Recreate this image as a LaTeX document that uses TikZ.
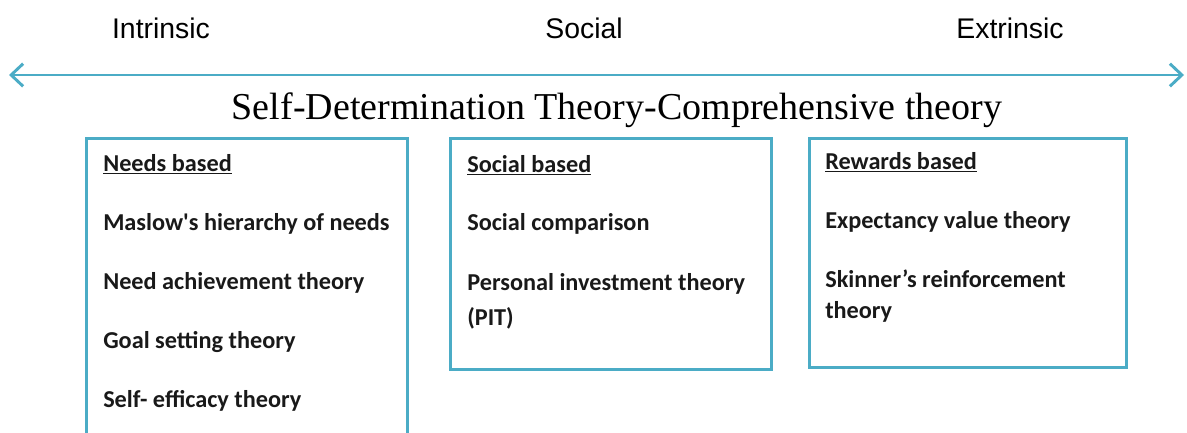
\documentclass[tikz,border=0pt]{standalone}
\usepackage{fontspec}
\setmainfont{Carlito}
\newfontfamily\labelfont{Liberation Sans}
\newfontfamily\titlefont{Liberation Serif}
\usetikzlibrary{arrows.meta}
\definecolor{aqua}{HTML}{4BACC6}
\tikzset{
  frame/.style={draw=aqua, line width=2.4pt, anchor=north west, inner sep=0pt},
  axislabel/.style={font=\labelfont\fontsize{21.3}{25}\selectfont, anchor=base},
  item/.style={font=\bfseries\fontsize{18.2}{21}\selectfont, anchor=base west, inner sep=0pt, text=black!90},
  head/.style={item},
}
\newcommand{\headline}[1]{\underline{#1}}
\begin{document}
\begin{tikzpicture}[x=0.75pt, y=-0.75pt]
  \useasboundingbox (0,0) rectangle (1187,432);
  \clip (0,0) rectangle (1187,432);

  % scale labels
  \node[axislabel] (intr) at (161,38) {Intrinsic};
  \node[axislabel] (soc)  at (584,38) {Social};
  \node[axislabel] (extr) at (1010,38) {Extrinsic};

  % double-headed axis
  \coordinate (axl) at (9,75);
  \coordinate (axr) at (1184,75);
  \draw[aqua, line width=2.2pt, {Straight Barb[length=9pt, width=17pt, line width=2.2pt]}-{Straight Barb[length=9pt, width=17pt, line width=2.2pt]}] (axl) -- (axr);

  % title
  \node[font=\titlefont\fontsize{28.5}{33}\selectfont, anchor=base] (title) at (617,119)
    {Self-Determination Theory-Comprehensive theory};

  % category frames
  \node[frame, minimum width=240.5pt, minimum height=260pt] (needs) at (85,137) {};
  \node[frame, minimum width=240.5pt, minimum height=173pt] (social) at (449,137) {};
  \node[frame, minimum width=237.5pt, minimum height=171.5pt] (rewards) at (808,137) {};

  % needs based
  \node[head] (n0) at (103,171) {\headline{Needs based}};
  \node[item] (n1) at (103,230) {Maslow\textquotesingle s hierarchy of needs};
  \node[item] (n2) at (103,289) {Need achievement theory};
  \node[item] (n3) at (103,348) {Goal setting theory};
  \node[item] (n4) at (103,407) {Self- efficacy theory};

  % social based
  \node[head] (s0) at (467,172) {\headline{Social based}};
  \node[item] (s1) at (467,230) {Social comparison};
  \node[item] (s2) at (467,290) {Personal investment theory};
  \node[item] (s3) at (467,325) {(PIT)};

  % rewards based
  \node[head] (r0) at (825,169) {\headline{Rewards based}};
  \node[item] (r1) at (825,228) {Expectancy value theory};
  \node[item] (r2) at (825,287) {Skinner’s reinforcement};
  \node[item] (r3) at (825,318) {theory};
\end{tikzpicture}
\end{document}
